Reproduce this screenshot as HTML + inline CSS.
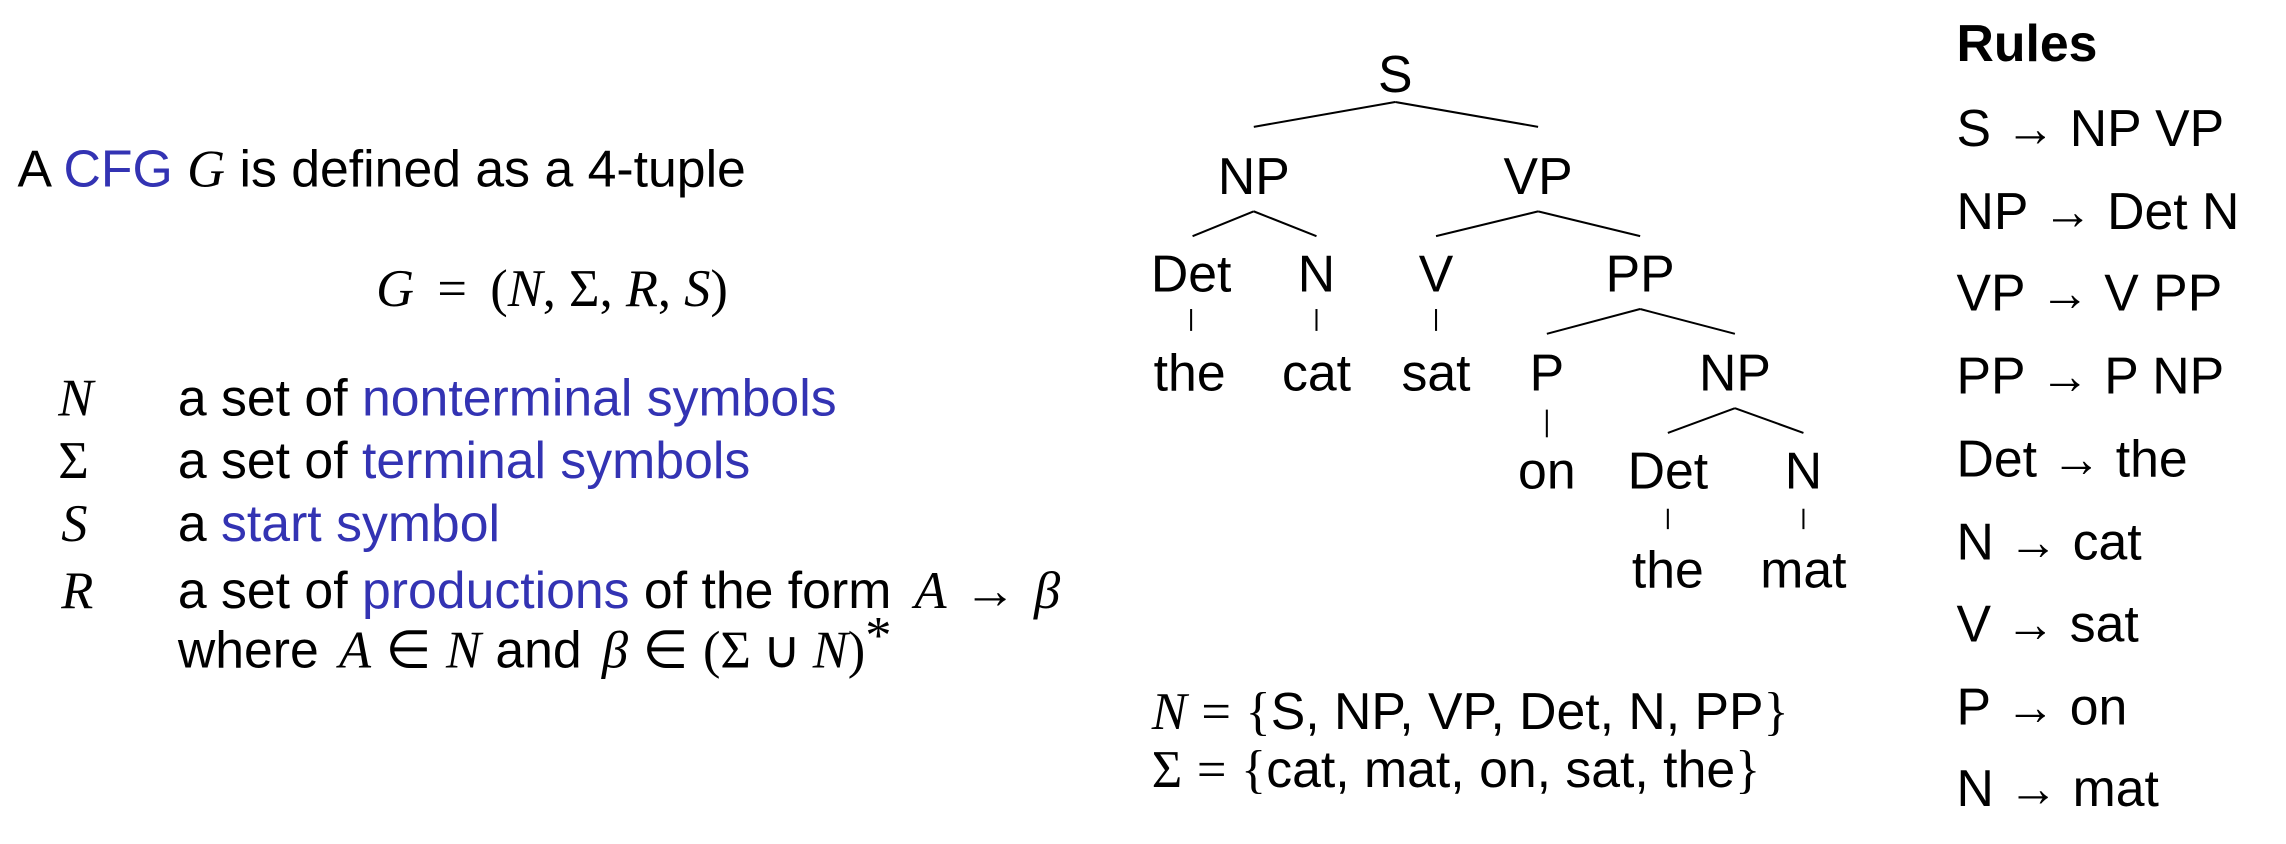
<!DOCTYPE html>
<html><head><meta charset="utf-8"><style>
html,body{margin:0;padding:0;background:#fff;width:2286px;height:844px;overflow:hidden}
svg{display:block}
.t{font-family:"Liberation Sans",sans-serif;font-size:35.5px;fill:#000}
.m{font-family:"Liberation Serif",serif;font-style:italic;font-size:36px;fill:#000}
.r{font-family:"Liberation Serif",serif;font-style:normal;font-size:36px;fill:#000}
.b{fill:#3333b3}
line{stroke:#000;stroke-width:1.4}
</style></head><body>
<svg width="2286" height="844" viewBox="0 0 1568 579" preserveAspectRatio="none">
<g>
<text class="t" x="12" y="128">A <tspan class="b">CFG</tspan> <tspan class="m">G</tspan> is defined as a 4-tuple</text>
<text class="r" x="258" y="210"><tspan class="m">G</tspan><tspan dx="16">=</tspan><tspan dx="16">(</tspan><tspan class="m">N</tspan>,<tspan dx="9">Σ</tspan>,<tspan class="m" dx="9">R</tspan>,<tspan class="m" dx="9">S</tspan>)</text>
<text class="m" x="40" y="285">N</text>
<text class="t" x="122" y="285">a set of <tspan class="b">nonterminal symbols</tspan></text>
<text class="r" x="40" y="328">Σ</text>
<text class="t" x="122" y="328">a set of <tspan class="b">terminal symbols</tspan></text>
<text class="m" x="42" y="371">S</text>
<text class="t" x="122" y="371">a <tspan class="b">start symbol</tspan></text>
<text class="m" x="42" y="417">R</text>
<text class="t" x="122" y="417">a set of <tspan class="b">productions</tspan> of the form <tspan class="m" dx="6">A</tspan><tspan class="r" dx="12" textLength="36" lengthAdjust="spacingAndGlyphs">→</tspan><tspan class="m" dx="12">β</tspan></text>
<text class="t" x="122" y="458">where <tspan class="m" dx="4">A</tspan><tspan class="r" dx="10">∈</tspan><tspan class="m" dx="10">N</tspan> and <tspan class="m" dx="4">β</tspan><tspan class="r" dx="10">∈</tspan><tspan class="r" dx="10">(Σ</tspan><tspan class="r" dx="8">∪</tspan><tspan class="m" dx="8">N</tspan><tspan class="r">)</tspan><tspan class="r" dy="-10" font-size="24">*</tspan></text>
</g>
<g text-anchor="middle">
<text class="t" x="957" y="63">S</text>
<text class="t" x="860" y="133">NP</text>
<text class="t" x="1055" y="133">VP</text>
<text class="t" x="817" y="200">Det</text>
<text class="t" x="903" y="200">N</text>
<text class="t" x="985" y="200">V</text>
<text class="t" x="1125" y="200">PP</text>
<text class="t" x="816" y="268">the</text>
<text class="t" x="903" y="268">cat</text>
<text class="t" x="985" y="268">sat</text>
<text class="t" x="1061" y="268">P</text>
<text class="t" x="1190" y="268">NP</text>
<text class="t" x="1061" y="335">on</text>
<text class="t" x="1144" y="335">Det</text>
<text class="t" x="1237" y="335">N</text>
<text class="t" x="1144" y="403">the</text>
<text class="t" x="1237" y="403">mat</text>
<line x1="957" y1="70" x2="860" y2="87"/><line x1="957" y1="70" x2="1055" y2="87"/>
<line x1="860" y1="145" x2="818" y2="162"/><line x1="860" y1="145" x2="903" y2="162"/>
<line x1="1055" y1="145" x2="985" y2="162"/><line x1="1055" y1="145" x2="1125" y2="162"/>
<line x1="817" y1="212" x2="817" y2="227"/><line x1="903" y1="212" x2="903" y2="227"/><line x1="985" y1="212" x2="985" y2="227"/>
<line x1="1125" y1="212" x2="1061" y2="229"/><line x1="1125" y1="212" x2="1190" y2="229"/>
<line x1="1061" y1="281" x2="1061" y2="300"/>
<line x1="1190" y1="280" x2="1144" y2="297"/><line x1="1190" y1="280" x2="1237" y2="297"/>
<line x1="1144" y1="349" x2="1144" y2="363"/><line x1="1237" y1="349" x2="1237" y2="363"/>
</g>
<g>
<text class="t" x="790" y="500"><tspan class="m">N</tspan><tspan class="r" dx="10">=</tspan><tspan class="r" dx="10">{</tspan>S, NP, VP, Det, N, PP<tspan class="r">}</tspan></text>
<text class="t" x="790" y="540"><tspan class="r">Σ</tspan><tspan class="r" dx="10">=</tspan><tspan class="r" dx="10">{</tspan>cat, mat, on, sat, the<tspan class="r">}</tspan></text>
</g>
<g>
<text class="t" x="1342" y="42" font-weight="bold">Rules</text>
<text class="t" x="1342" y="100">S<tspan class="r" dx="10" textLength="34" lengthAdjust="spacingAndGlyphs">→</tspan><tspan dx="10">NP VP</tspan></text>
<text class="t" x="1342" y="157">NP<tspan class="r" dx="10" textLength="34" lengthAdjust="spacingAndGlyphs">→</tspan><tspan dx="10">Det N</tspan></text>
<text class="t" x="1342" y="213">VP<tspan class="r" dx="10" textLength="34" lengthAdjust="spacingAndGlyphs">→</tspan><tspan dx="10">V PP</tspan></text>
<text class="t" x="1342" y="270">PP<tspan class="r" dx="10" textLength="34" lengthAdjust="spacingAndGlyphs">→</tspan><tspan dx="10">P NP</tspan></text>
<text class="t" x="1342" y="327">Det<tspan class="r" dx="10" textLength="34" lengthAdjust="spacingAndGlyphs">→</tspan><tspan dx="10">the</tspan></text>
<text class="t" x="1342" y="384">N<tspan class="r" dx="10" textLength="34" lengthAdjust="spacingAndGlyphs">→</tspan><tspan dx="10">cat</tspan></text>
<text class="t" x="1342" y="440">V<tspan class="r" dx="10" textLength="34" lengthAdjust="spacingAndGlyphs">→</tspan><tspan dx="10">sat</tspan></text>
<text class="t" x="1342" y="497">P<tspan class="r" dx="10" textLength="34" lengthAdjust="spacingAndGlyphs">→</tspan><tspan dx="10">on</tspan></text>
<text class="t" x="1342" y="553">N<tspan class="r" dx="10" textLength="34" lengthAdjust="spacingAndGlyphs">→</tspan><tspan dx="10">mat</tspan></text>
</g>
</svg>
</body></html>
